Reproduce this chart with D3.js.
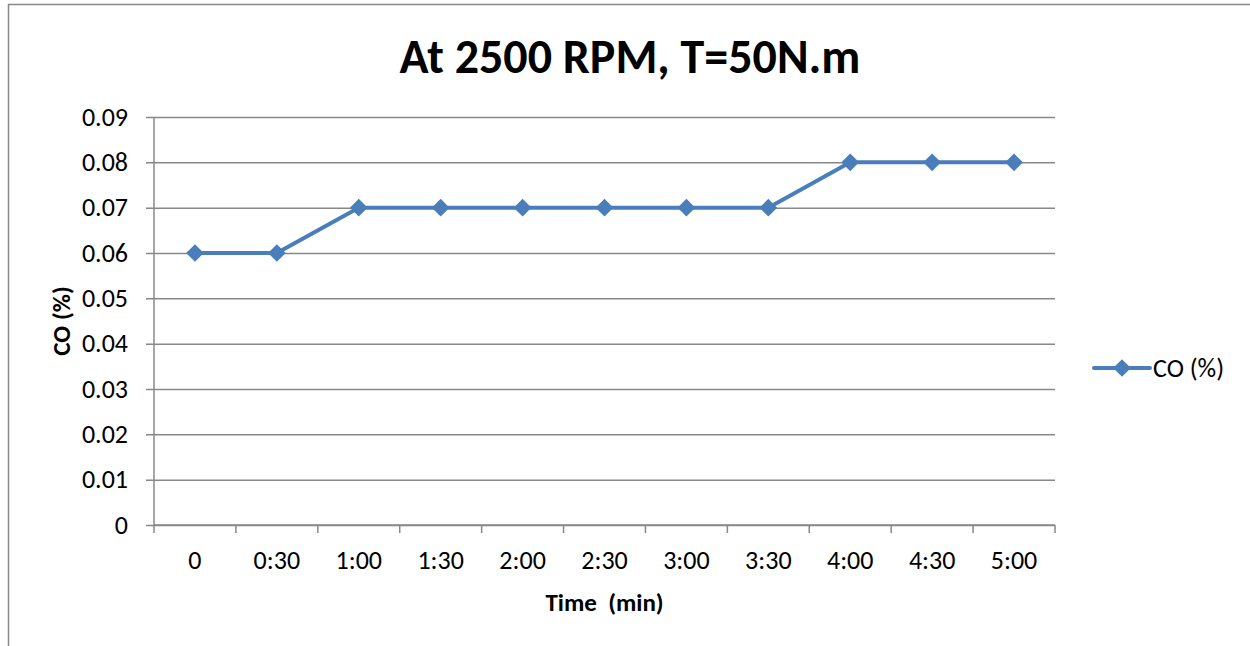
<!DOCTYPE html>
<html>
<head>
<meta charset="utf-8">
<script src="https://cdn.jsdelivr.net/npm/d3@7"></script>
<style>
  body { margin: 0; background: #fff; }
  text { font-family: Carlito, Lato, 'Open Sans', sans-serif; fill: #000; }
</style>
</head>
<body>
<div id="chart"></div>
<script>
const times = ['0', '0:30', '1:00', '1:30', '2:00', '2:30', '3:00', '3:30', '4:00', '4:30', '5:00']
const coValues = [0.06, 0.06, 0.07, 0.07, 0.07, 0.07, 0.07, 0.07, 0.08, 0.08, 0.08]
const yTicks = [0, 0.01, 0.02, 0.03, 0.04, 0.05, 0.06, 0.07, 0.08, 0.09]

const margin = { top: 117, right: 195, bottom: 121, left: 154 }
const width = 1250 - margin.left - margin.right
const height = 646 - margin.top - margin.bottom

const svg = d3
  .select('#chart')
  .append('svg')
  .attr('width', 1250)
  .attr('height', 646)

// outer chart border (only left and top are visible in the frame)
svg.append('rect')
  .attr('x', 8.5)
  .attr('y', 4.5)
  .attr('width', 1400)
  .attr('height', 800)
  .attr('fill', 'none')
  .attr('stroke', '#888')
  .attr('stroke-width', 1.5)

const g = svg.append('g')
  .attr('transform', 'translate(' + margin.left + ',' + margin.top + ')')

const x = d3.scaleBand().domain(times).range([0, width])
const y = d3.scaleLinear().domain([0, 0.09]).range([height, 0])

// grid + y axis
const yAxis = d3.axisLeft(y)
  .tickValues(yTicks)
  .tickSize(-width)
  .tickPadding(26)
  .tickFormat(d => d === 0 ? '0' : d3.format('.2f')(d))

const yg = g.append('g').attr('class', 'y-axis').call(yAxis)
yg.attr('font-family', null).attr('font-size', null)
yg.select('.domain').remove()
yg.selectAll('.tick line')
  .attr('x1', -8)
  .attr('stroke', '#888')
  .attr('stroke-width', 1.5)
yg.selectAll('.tick text')
  .attr('font-size', 26)

g.append('line')
  .attr('x1', 0).attr('x2', 0)
  .attr('y1', 0).attr('y2', height)
  .attr('stroke', '#888')
  .attr('stroke-width', 1.5)

// x axis ticks at band edges
const xg = g.append('g').attr('transform', 'translate(0,' + height + ')')
xg.append('line')
  .attr('x1', 0).attr('x2', width)
  .attr('stroke', '#888')
  .attr('stroke-width', 1.5)
const edges = times.map(t => x(t)).concat([width])
xg.selectAll('.xt')
  .data(edges)
  .enter()
  .append('line')
  .attr('x1', d => d).attr('x2', d => d)
  .attr('y1', 0).attr('y2', 8)
  .attr('stroke', '#888')
  .attr('stroke-width', 1.5)
xg.selectAll('.xl')
  .data(times)
  .enter()
  .append('text')
  .attr('x', d => x(d) + x.bandwidth() / 2)
  .attr('y', 44)
  .attr('text-anchor', 'middle')
  .attr('font-size', 26)
  .text(d => d)

// line
const line = d3.line()
  .x((d, i) => x(times[i]) + x.bandwidth() / 2)
  .y(d => y(d))

g.append('path')
  .datum(coValues)
  .attr('d', line)
  .attr('fill', 'none')
  .attr('stroke', '#4a7ebb')
  .attr('stroke-width', 4)
  .attr('stroke-linejoin', 'round')

const diamond = d3.symbol().type(d3.symbolDiamond2).size(200)
g.selectAll('.pt')
  .data(coValues)
  .enter()
  .append('path')
  .attr('d', diamond)
  .attr('transform', (d, i) => 'translate(' + (x(times[i]) + x.bandwidth() / 2) + ',' + y(d) + ')')
  .attr('fill', '#4a7ebb')

// titles
svg.append('text')
  .attr('x', 630)
  .attr('y', 73)
  .attr('text-anchor', 'middle')
  .attr('font-size', 48)
  .attr('font-weight', 'bold')
  .text('At 2500 RPM, T=50N.m')

svg.append('text')
  .attr('x', margin.left + width / 2)
  .attr('y', 611)
  .attr('text-anchor', 'middle')
  .attr('font-size', 25)
  .attr('font-weight', 'bold')
  .style('white-space', 'pre')
  .text('Time  (min)')

svg.append('text')
  .attr('transform', 'translate(70,' + (margin.top + height / 2) + ') rotate(-90)')
  .attr('text-anchor', 'middle')
  .attr('font-size', 25)
  .attr('font-weight', 'bold')
  .text('CO (%)')

// legend
const lg = svg.append('g').attr('transform', 'translate(1094,368)')
lg.append('line')
  .attr('x1', 0).attr('x2', 56)
  .attr('stroke', '#4a7ebb')
  .attr('stroke-width', 4)
  .attr('stroke-linecap', 'round')
lg.append('path')
  .attr('d', diamond)
  .attr('transform', 'translate(28,0)')
  .attr('fill', '#4a7ebb')
lg.append('text')
  .attr('x', 59)
  .attr('y', 9)
  .attr('font-size', 26)
  .text('CO (%)')
</script>
</body>
</html>
